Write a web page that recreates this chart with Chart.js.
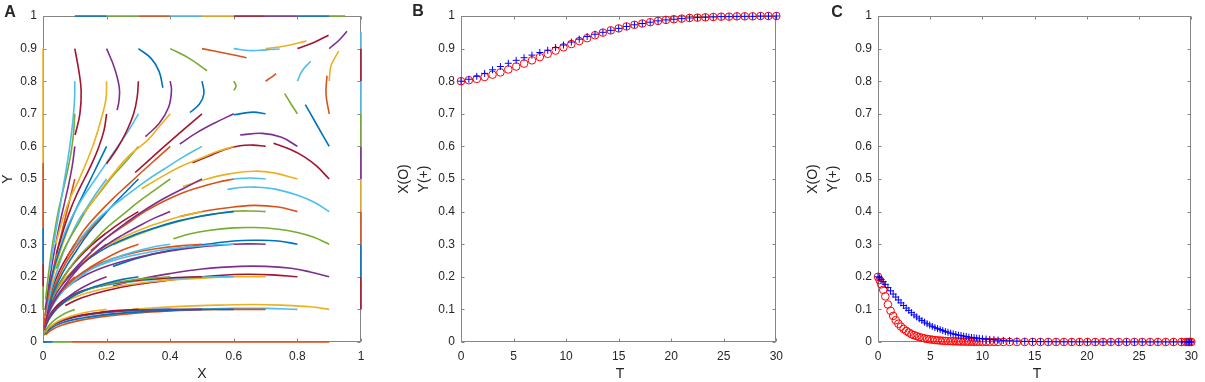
<!DOCTYPE html>
<html>
<head>
<meta charset="utf-8">
<script src="https://cdn.jsdelivr.net/npm/chart.js@4.4.0/dist/chart.umd.min.js"></script>
<style>
  body { margin: 0; background: #fff; width: 1205px; height: 382px; position: relative; overflow: hidden; }
  canvas { position: absolute; top: 0; }
</style>
</head>
<body>
<canvas id="chartA" width="380" height="382" style="left:0px"></canvas>
<canvas id="chartB" width="400" height="382" style="left:390px"></canvas>
<canvas id="chartC" width="405" height="382" style="left:800px"></canvas>
<script>
// --- panel A: streamlines, one row per starting y (0.9 ... 0.1) ---
const row9 = [
  [[0.1,0.9],[0.113,0.83],[0.12,0.77],[0.116,0.7],[0.101,0.635]],
  [[0.2,0.9],[0.225,0.84],[0.24,0.78],[0.239,0.74],[0.233,0.711]],
  [[0.3,0.9],[0.34,0.87],[0.365,0.83],[0.377,0.78]],
  [[0.4,0.9],[0.46,0.87],[0.516,0.832]],
  [[0.5,0.9],[0.577,0.885],[0.64,0.872]],
  [[0.6,0.9],[0.65,0.894],[0.7,0.896],[0.744,0.899]],
  [[0.7,0.9],[0.76,0.908],[0.828,0.923]],
  [[0.8,0.9],[0.85,0.918],[0.898,0.941]],
  [[0.9,0.9],[0.93,0.925],[0.956,0.953]]
];
const row9Colors = [6,3,0,4,1,5,2,6,3];

const row8 = [
  [[0.1,0.8],[0.099,0.74],[0.094,0.68],[0.087,0.62],[0.078,0.56],[0.068,0.5],[0.056,0.43],[0.044,0.36],[0.032,0.29],[0.022,0.22]],
  [[0.2,0.8],[0.198,0.745],[0.183,0.684],[0.157,0.602],[0.115,0.502],[0.085,0.44],[0.06,0.37],[0.04,0.3]],
  [[0.3,0.8],[0.296,0.75],[0.285,0.7],[0.262,0.645],[0.234,0.595],[0.2,0.547]],
  [[0.4,0.8],[0.404,0.772],[0.395,0.72],[0.365,0.67],[0.322,0.63]],
  [[0.5,0.8],[0.506,0.762],[0.492,0.73],[0.462,0.704]],
  [[0.6,0.8],[0.607,0.785],[0.6,0.772]],
  [[0.7,0.8],[0.715,0.81],[0.733,0.823]],
  [[0.8,0.8],[0.815,0.832],[0.842,0.861]],
  [[0.9,0.8],[0.905,0.845],[0.918,0.872],[0.93,0.892]]
];
const row8Colors = [5,2,6,3,0,4,1,5,2];

const row7 = [
  [[0.1,0.7],[0.096,0.64],[0.088,0.58],[0.076,0.52],[0.062,0.46],[0.048,0.4],[0.035,0.33],[0.024,0.26],[0.015,0.19],[0.008,0.13]],
  [[0.2,0.7],[0.192,0.65],[0.176,0.6],[0.155,0.55],[0.13,0.5],[0.105,0.45],[0.08,0.39],[0.06,0.33],[0.042,0.27]],
  [[0.3,0.7],[0.27,0.65],[0.235,0.6],[0.2,0.55],[0.165,0.5],[0.13,0.45],[0.1,0.4],[0.075,0.35],[0.055,0.3]],
  [[0.4,0.7],[0.365,0.66],[0.33,0.62],[0.267,0.568],[0.21,0.502],[0.17,0.45],[0.13,0.395]],
  [[0.5,0.7],[0.44,0.65],[0.37,0.59],[0.29,0.52]],
  [[0.6,0.7],[0.54,0.672],[0.48,0.64],[0.43,0.607]],
  [[0.7,0.7],[0.66,0.705],[0.6,0.697]],
  [[0.8,0.7],[0.78,0.73],[0.76,0.762]],
  [[0.9,0.7],[0.89,0.76],[0.893,0.817]]
];
const row7Colors = [4,6,5,2,6,3,0,4,1];

const row6 = [
  [[0.1,0.6],[0.092,0.54],[0.08,0.48],[0.066,0.42],[0.052,0.36],[0.04,0.3],[0.027,0.23],[0.016,0.16],[0.007,0.1]],
  [[0.2,0.6],[0.18,0.56],[0.155,0.51],[0.13,0.46],[0.105,0.41],[0.082,0.36],[0.062,0.31],[0.045,0.26],[0.03,0.21],[0.018,0.16]],
  [[0.3,0.6],[0.262,0.555],[0.22,0.51],[0.18,0.46],[0.14,0.41],[0.11,0.36],[0.085,0.32],[0.062,0.275],[0.042,0.225]],
  [[0.4,0.6],[0.36,0.565],[0.32,0.53],[0.27,0.485],[0.22,0.44],[0.17,0.39],[0.13,0.345],[0.1,0.3],[0.075,0.26]],
  [[0.5,0.6],[0.44,0.567],[0.38,0.53],[0.325,0.495],[0.27,0.455],[0.21,0.41],[0.16,0.365],[0.12,0.32],[0.09,0.28]],
  [[0.6,0.6],[0.55,0.585],[0.5,0.565],[0.43,0.537],[0.37,0.505],[0.31,0.47]],
  [[0.7,0.6],[0.66,0.604],[0.62,0.602],[0.57,0.59],[0.52,0.57],[0.47,0.55]],
  [[0.8,0.6],[0.75,0.628],[0.69,0.64],[0.62,0.635]],
  [[0.9,0.6],[0.86,0.668],[0.825,0.728]]
];
const row6Colors = [3,0,4,1,5,2,6,3,0];

const row5 = [
  [[0.1,0.5],[0.085,0.44],[0.07,0.38],[0.055,0.32],[0.04,0.26],[0.028,0.2],[0.016,0.14],[0.006,0.08]],
  [[0.2,0.5],[0.17,0.46],[0.14,0.415],[0.11,0.37],[0.085,0.32],[0.062,0.27],[0.045,0.22],[0.03,0.175],[0.018,0.13],[0.008,0.085]],
  [[0.3,0.5],[0.26,0.46],[0.22,0.42],[0.18,0.375],[0.14,0.33],[0.105,0.28],[0.075,0.235],[0.05,0.19],[0.03,0.145],[0.015,0.1]],
  [[0.4,0.5],[0.35,0.465],[0.3,0.43],[0.25,0.39],[0.2,0.35],[0.15,0.3],[0.11,0.26],[0.08,0.22],[0.05,0.175],[0.028,0.13]],
  [[0.5,0.5],[0.44,0.47],[0.38,0.44],[0.32,0.405],[0.26,0.365],[0.2,0.32],[0.15,0.275],[0.11,0.235],[0.075,0.195]],
  [[0.6,0.5],[0.55,0.49],[0.5,0.477],[0.44,0.458],[0.38,0.432],[0.32,0.4],[0.26,0.36],[0.2,0.32],[0.15,0.28]],
  [[0.7,0.5],[0.65,0.503],[0.6,0.5]],
  [[0.8,0.5],[0.73,0.518],[0.665,0.524],[0.58,0.515],[0.5,0.496],[0.44,0.477]],
  [[0.9,0.5],[0.86,0.54],[0.822,0.568],[0.78,0.59],[0.725,0.61]]
];
const row5Colors = [1,5,0,4,3,1,5,2,6];

const row4 = [
  [[0.1,0.4],[0.08,0.35],[0.06,0.295],[0.042,0.24],[0.027,0.18],[0.015,0.125],[0.006,0.075]],
  [[0.2,0.4],[0.165,0.365],[0.13,0.325],[0.1,0.285],[0.07,0.24],[0.045,0.19],[0.025,0.14],[0.01,0.09],[0.003,0.05]],
  [[0.3,0.4],[0.25,0.37],[0.2,0.335],[0.15,0.295],[0.1,0.245],[0.065,0.2],[0.035,0.15],[0.015,0.1],[0.005,0.06]],
  [[0.4,0.4],[0.35,0.38],[0.3,0.355],[0.25,0.328],[0.2,0.298],[0.15,0.262],[0.1,0.218],[0.06,0.175],[0.03,0.128],[0.01,0.08]],
  [[0.5,0.4],[0.44,0.387],[0.38,0.37],[0.32,0.35],[0.26,0.325],[0.2,0.295],[0.14,0.258],[0.09,0.215],[0.05,0.17],[0.022,0.12]],
  [[0.6,0.4],[0.55,0.394],[0.49,0.385],[0.42,0.37],[0.35,0.35],[0.28,0.326],[0.21,0.295],[0.15,0.26],[0.1,0.222],[0.06,0.18]],
  [[0.7,0.4],[0.65,0.402],[0.6,0.401],[0.55,0.395],[0.49,0.384],[0.42,0.368],[0.35,0.348],[0.28,0.323],[0.22,0.298]],
  [[0.8,0.4],[0.74,0.414],[0.665,0.419],[0.6,0.414],[0.55,0.408],[0.49,0.398],[0.43,0.385]],
  [[0.9,0.4],[0.85,0.43],[0.8,0.45],[0.73,0.469],[0.665,0.475],[0.62,0.474],[0.58,0.468]]
];
const row4Colors = [2,1,6,3,2,0,4,1,5];

const row3 = [
  [[0.1,0.3],[0.075,0.26],[0.05,0.215],[0.03,0.165],[0.015,0.115],[0.005,0.065]],
  [[0.2,0.3],[0.16,0.27],[0.12,0.235],[0.085,0.195],[0.055,0.155],[0.03,0.115],[0.012,0.075],[0.004,0.045]],
  [[0.3,0.3],[0.25,0.282],[0.2,0.258],[0.15,0.23],[0.1,0.195],[0.06,0.158],[0.03,0.118],[0.012,0.078],[0.004,0.045]],
  [[0.4,0.3],[0.34,0.29],[0.28,0.275],[0.22,0.255],[0.16,0.228],[0.11,0.195],[0.065,0.158],[0.032,0.115],[0.012,0.075]],
  [[0.5,0.3],[0.43,0.295],[0.36,0.287],[0.29,0.275],[0.22,0.256],[0.16,0.232],[0.1,0.196],[0.055,0.155],[0.025,0.11],[0.008,0.07]],
  [[0.6,0.3],[0.52,0.297],[0.44,0.29],[0.36,0.28],[0.28,0.265],[0.2,0.243],[0.13,0.213],[0.075,0.175],[0.035,0.13],[0.012,0.085]],
  [[0.7,0.3],[0.65,0.301],[0.6,0.3],[0.5,0.292],[0.4,0.279],[0.3,0.26],[0.2,0.232],[0.12,0.198],[0.065,0.16],[0.03,0.118]],
  [[0.8,0.3],[0.74,0.31],[0.665,0.312],[0.6,0.31],[0.5,0.298],[0.4,0.281],[0.3,0.258],[0.22,0.232]],
  [[0.9,0.3],[0.85,0.322],[0.8,0.336],[0.74,0.346],[0.665,0.351],[0.6,0.35],[0.52,0.342],[0.46,0.331],[0.41,0.317]]
];
const row3Colors = [6,3,1,5,1,5,3,0,4];

const row2 = [
  [[0.1,0.2],[0.07,0.172],[0.045,0.14],[0.025,0.105],[0.01,0.07],[0.003,0.04]],
  [[0.2,0.2],[0.15,0.18],[0.1,0.153],[0.06,0.122],[0.03,0.09],[0.012,0.06],[0.004,0.035]],
  [[0.3,0.2],[0.25,0.192],[0.2,0.18],[0.14,0.162],[0.09,0.138],[0.05,0.108],[0.022,0.075],[0.007,0.045]],
  [[0.4,0.2],[0.34,0.196],[0.28,0.19],[0.2,0.177],[0.13,0.157],[0.08,0.132],[0.04,0.1],[0.015,0.068],[0.005,0.04]],
  [[0.5,0.2],[0.42,0.198],[0.34,0.193],[0.26,0.185],[0.18,0.172],[0.11,0.152],[0.06,0.125],[0.028,0.093],[0.01,0.06]],
  [[0.6,0.2],[0.5,0.199],[0.4,0.195],[0.3,0.187],[0.2,0.174],[0.12,0.155],[0.065,0.128],[0.03,0.096],[0.01,0.062]],
  [[0.7,0.2],[0.6,0.2],[0.5,0.196],[0.4,0.19],[0.3,0.18],[0.2,0.165],[0.12,0.145],[0.065,0.12],[0.03,0.09],[0.01,0.058]],
  [[0.8,0.2],[0.72,0.206],[0.65,0.208],[0.6,0.207],[0.5,0.2],[0.4,0.19],[0.3,0.177],[0.2,0.158],[0.12,0.135],[0.07,0.112]],
  [[0.9,0.2],[0.84,0.215],[0.78,0.226],[0.7,0.232],[0.62,0.232],[0.5,0.224],[0.4,0.21],[0.3,0.192],[0.22,0.172]]
];
const row2Colors = [1,3,0,4,6,5,2,6,3];

const row1 = [
  [[0.1,0.1],[0.07,0.088],[0.04,0.07],[0.02,0.052],[0.008,0.035],[0.002,0.02]],
  [[0.2,0.1],[0.14,0.092],[0.09,0.08],[0.05,0.065],[0.02,0.045],[0.006,0.028]],
  [[0.3,0.1],[0.24,0.097],[0.18,0.091],[0.12,0.082],[0.07,0.07],[0.035,0.055],[0.012,0.036],[0.004,0.022]],
  [[0.4,0.1],[0.32,0.099],[0.24,0.095],[0.16,0.088],[0.1,0.078],[0.05,0.062],[0.02,0.044],[0.006,0.027]],
  [[0.5,0.1],[0.4,0.1],[0.3,0.097],[0.2,0.091],[0.12,0.08],[0.06,0.065],[0.025,0.047],[0.008,0.03]],
  [[0.6,0.1],[0.5,0.1],[0.4,0.097],[0.3,0.092],[0.2,0.084],[0.12,0.073],[0.06,0.059],[0.025,0.042],[0.008,0.027]],
  [[0.7,0.1],[0.6,0.1],[0.5,0.099],[0.4,0.095],[0.3,0.089],[0.2,0.079],[0.12,0.067],[0.06,0.052],[0.025,0.036],[0.008,0.022]],
  [[0.8,0.1],[0.7,0.103],[0.6,0.103],[0.5,0.101],[0.4,0.098],[0.3,0.092],[0.2,0.084],[0.13,0.075]],
  [[0.9,0.1],[0.84,0.108],[0.75,0.113],[0.665,0.115],[0.55,0.113],[0.45,0.11],[0.35,0.105],[0.28,0.1]]
];
const row1Colors = [4,2,6,0,3,0,1,5,2];

// streamlines lying on the boundary of the unit square
const edgeLines = [
  [[0.1,1],[0.2,1]], [[0.2,1],[0.3,1]], [[0.3,1],[0.4,1]], [[0.4,1],[0.5,1]], [[0.5,1],[0.6,1]],
  [[0.6,1],[0.7,1]], [[0.7,1],[0.8,1]], [[0.8,1],[0.9,1]], [[0.9,1],[0.95,1]],
  [[1,0.95],[1,0.9]], [[1,0.9],[1,0.8]], [[1,0.8],[1,0.7]], [[1,0.7],[1,0.6]], [[1,0.6],[1,0.5]],
  [[1,0.5],[1,0.4]], [[1,0.4],[1,0.3]], [[1,0.3],[1,0.2]], [[1,0.2],[1,0.1]],
  [[0,0.9],[0,0.55]], [[0,0.55],[0,0.35]], [[0,0.35],[0,0.24]], [[0,0.24],[0,0.17]], [[0,0.17],[0,0.1]],
  [[0,0],[0.03,0]], [[0.03,0],[0.09,0]], [[0.09,0],[0.9,0]]
];
const edgeColors = [0,4,1,5,2,6,3,0,4, 5,6,5,4,3,2,1,0,6, 2,1,0,6,4, 0,4,1];

// --- panel B: trajectory from (0.8, 0.8) ---
const tB = [0,0.75,1.5,2.25,3,3.75,4.5,5.25,6,6.75,7.5,8.25,9,9.75,10.5,11.25,12,12.75,13.5,14.25,
  15,15.75,16.5,17.25,18,18.75,19.5,20.25,21,21.75,22.5,23.25,24,24.75,25.5,26.25,27,27.75,28.5,29.25,30];
const xB = [0.8,0.803,0.807,0.813,0.82,0.827,0.836,0.845,0.854,0.864,0.874,0.884,0.894,0.904,0.914,0.923,0.932,0.941,0.949,0.956,
  0.962,0.968,0.973,0.977,0.981,0.985,0.988,0.99,0.992,0.994,0.995,0.996,0.997,0.998,0.998,0.999,0.999,0.999,1,1,1];
const yB = [0.8,0.806,0.815,0.824,0.835,0.845,0.855,0.864,0.872,0.88,0.888,0.895,0.903,0.911,0.92,0.929,0.937,0.944,0.95,0.956,
  0.962,0.968,0.973,0.977,0.981,0.985,0.988,0.99,0.992,0.994,0.995,0.996,0.997,0.998,0.998,0.999,0.999,0.999,1,1,1];

// --- panel C: trajectory from (0.2, 0.2) ---
const tC = [0,0.15,0.3,0.5,0.7,0.95,1.2,1.45,1.7,1.95,2.2,2.45,2.7,2.95,3.2,3.45,3.7,3.95,4.2,4.45,
  4.7,4.95,5.2,5.45,5.7,5.95,6.2,6.45,6.7,6.95,7.2,7.45,7.7,7.95,8.2,8.45,8.7,8.95,9.2,9.45,
  9.7,10,10.35,10.7,11.1,11.5,12,12.6,13.3,14.05,14.8,15.55,16.3,17.05,17.8,18.55,19.3,20.05,20.8,21.55,
  22.3,23.05,23.8,24.55,25.3,26.05,26.8,27.55,28.3,29.05,29.5,29.7,29.85,30];
const xC = [0.2,0.19,0.177,0.16,0.14,0.115,0.096,0.08,0.067,0.056,0.047,0.04,0.034,0.029,0.024,0.021,0.018,0.015,0.013,0.011,
  0.0095,0.0082,0.007,0.006,0.0052,0.0045,0.0039,0.0033,0.0029,0.0025,0.0021,0.0018,0.0016,0.0014,0.0012,0.001,0.0009,0.0008,0.0007,0.0006,
  0.0005,0.0004,0.0004,0.0003,0.0003,0.0002,0.0002,0.0001,0.0001,0,0,0,0,0,0,0,0,0,0,0,
  0,0,0,0,0,0,0,0,0,0,0,0,0,0];
const yC = [0.2,0.197,0.192,0.185,0.177,0.167,0.157,0.147,0.138,0.129,0.12,0.112,0.104,0.097,0.09,0.083,0.077,0.071,0.066,0.061,
  0.056,0.052,0.048,0.044,0.041,0.038,0.035,0.032,0.03,0.027,0.025,0.023,0.021,0.02,0.018,0.017,0.015,0.014,0.013,0.012,
  0.011,0.01,0.009,0.008,0.007,0.006,0.005,0.004,0.003,0.002,0.0015,0.001,0.0008,0.0006,0.0004,0.0003,0.0002,0.0001,0,0,
  0,0,0,0,0,0,0,0,0,0,0,0,0,0];

const palette = ['#0072BD','#D95319','#EDB120','#7E2F8E','#77AC30','#4DBEEE','#A2142F'];
const FONT = '"Liberation Sans", Arial, Helvetica, sans-serif';
const TEXT = '#262626';
const AXIS = '#858585';

// box + inward ticks on all four sides, and the hand-placed labels
const framePlugin = {
  id: 'frame',
  beforeDatasetsDraw(chart) {
    const { ctx, chartArea: a, scales } = chart;
    const L = Math.round(a.left) + 0.5, R = Math.round(a.right) - 0.5;
    const T = Math.round(a.top) + 0.5, B = Math.round(a.bottom) - 0.5;
    ctx.save();
    ctx.strokeStyle = AXIS;
    ctx.lineWidth = 1;
    ctx.strokeRect(L, T, R - L, B - T);
    ctx.beginPath();
    scales.x.ticks.forEach(t => {
      const p = Math.round(scales.x.getPixelForValue(t.value)) + 0.5;
      ctx.moveTo(p, B); ctx.lineTo(p, B - 3);
      ctx.moveTo(p, T); ctx.lineTo(p, T + 3);
    });
    scales.y.ticks.forEach(t => {
      const p = Math.round(scales.y.getPixelForValue(t.value)) + 0.5;
      ctx.moveTo(L, p); ctx.lineTo(L + 3, p);
      ctx.moveTo(R, p); ctx.lineTo(R - 3, p);
    });
    ctx.stroke();
    ctx.restore();
  },
  afterDraw(chart, args, opts) {
    const ctx = chart.ctx;
    ctx.save();
    ctx.fillStyle = TEXT;
    (opts.labels || []).forEach(l => {
      ctx.save();
      ctx.font = l.font;
      ctx.textAlign = 'center';
      ctx.textBaseline = l.rot ? 'middle' : 'alphabetic';
      ctx.translate(l.x, l.y);
      if (l.rot) ctx.rotate(-Math.PI / 2);
      ctx.fillText(l.text, 0, 0);
      ctx.restore();
    });
    ctx.restore();
  }
};

const fmt = v => String(Math.round(v * 10) / 10);

function makeScales(xMax, xStep, yWidth) {
  return {
    x: {
      type: 'linear', min: 0, max: xMax,
      grid: { display: false, drawTicks: false }, border: { display: false },
      ticks: { stepSize: xStep, color: TEXT, font: { size: 12, family: FONT }, padding: 7,
               autoSkip: false, maxRotation: 0, callback: fmt },
      afterFit: s => { s.height = 40; }
    },
    y: {
      type: 'linear', min: 0, max: 1,
      grid: { display: false, drawTicks: false }, border: { display: false },
      ticks: { stepSize: 0.1, color: TEXT, font: { size: 12, family: FONT }, padding: 6,
               autoSkip: false, callback: fmt },
      afterFit: s => { s.width = yWidth; }
    }
  };
}

function streamSet(pts, ci) {
  return {
    data: pts.map(p => ({ x: p[0], y: p[1] })),
    borderColor: palette[ci], borderWidth: 1.6,
    showLine: true, pointRadius: 0, tension: 0.4, fill: false, clip: false
  };
}

function baseOptions(scales, padRight, labels) {
  return {
    responsive: false, animation: false, events: [],
    layout: { padding: { left: 0, right: padRight, top: 16, bottom: 0 } },
    scales: scales,
    plugins: { legend: { display: false }, tooltip: { enabled: false }, frame: { labels: labels } }
  };
}

// panel A
const rows = [[row9,row9Colors],[row8,row8Colors],[row7,row7Colors],[row6,row6Colors],[row5,row5Colors],
              [row4,row4Colors],[row3,row3Colors],[row2,row2Colors],[row1,row1Colors]];
const streamDatasets = [];
rows.forEach(([lines, cols]) => lines.forEach((pts, i) => streamDatasets.push(streamSet(pts, cols[i]))));
edgeLines.forEach((pts, i) => streamDatasets.push(streamSet(pts, edgeColors[i])));

new Chart(document.getElementById('chartA'), {
  type: 'scatter',
  data: { datasets: streamDatasets },
  options: baseOptions(makeScales(1, 0.2, 43), 19, [
    { text: 'A', x: 10, y: 17, font: 'bold 16px ' + FONT },
    { text: 'X', x: 202, y: 378, font: '14px ' + FONT },
    { text: 'Y', x: 8, y: 179, rot: true, font: '14px ' + FONT }
  ]),
  plugins: [framePlugin]
});

// panels B and C
function markerSets(t, xs, ys) {
  return [
    { data: t.map((v, i) => ({ x: v, y: ys[i] })), showLine: false, clip: false,
      pointStyle: 'cross', pointRadius: 3.5, pointBorderColor: '#0000ff', pointBorderWidth: 1 },
    { data: t.map((v, i) => ({ x: v, y: xs[i] })), showLine: false, clip: false,
      pointStyle: 'circle', pointRadius: 3.8, pointBorderColor: '#ff0000',
      pointBackgroundColor: 'rgba(0,0,0,0)', pointBorderWidth: 1 }
  ];
}

new Chart(document.getElementById('chartB'), {
  type: 'scatter',
  data: { datasets: markerSets(tB, xB, yB) },
  options: baseOptions(makeScales(30, 5, 71), 11, [
    { text: 'B', x: 28, y: 16, font: 'bold 16px ' + FONT },
    { text: 'T', x: 230, y: 378, font: '14px ' + FONT },
    { text: 'X(O)', x: 14, y: 179, rot: true, font: '14px ' + FONT },
    { text: 'Y(+)', x: 34, y: 179, rot: true, font: '14px ' + FONT }
  ]),
  plugins: [framePlugin]
});

new Chart(document.getElementById('chartC'), {
  type: 'scatter',
  data: { datasets: markerSets(tC, xC, yC) },
  options: baseOptions(makeScales(30, 5, 78), 8, [
    { text: 'C', x: 37, y: 17, font: 'bold 16px ' + FONT },
    { text: 'T', x: 237, y: 378, font: '14px ' + FONT },
    { text: 'X(O)', x: 13, y: 179, rot: true, font: '14px ' + FONT },
    { text: 'Y(+)', x: 33, y: 179, rot: true, font: '14px ' + FONT }
  ]),
  plugins: [framePlugin]
});
</script>
</body>
</html>
